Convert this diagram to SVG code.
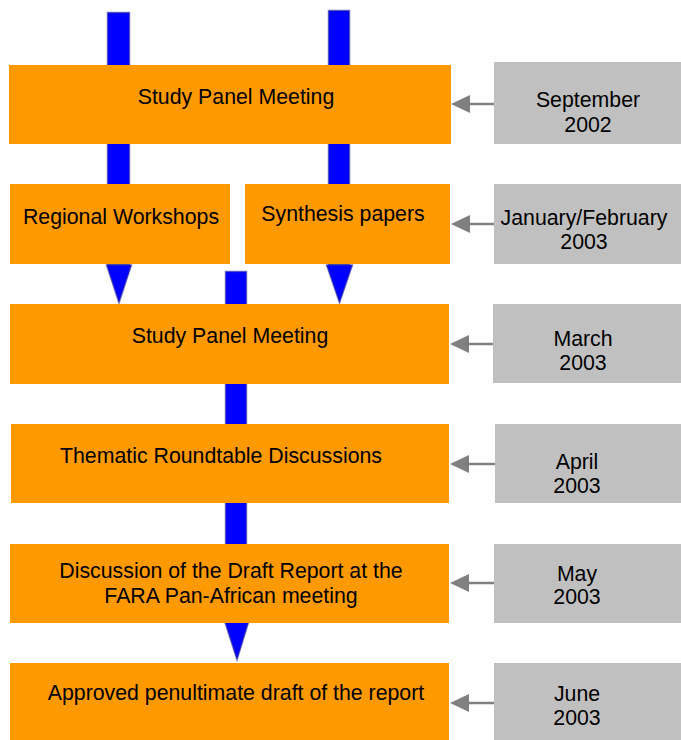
<svg xmlns="http://www.w3.org/2000/svg" width="681" height="740" viewBox="0 0 681 740">
<style>
.box{fill:#FF9900}
.date{fill:#C0C0C0}
.t{font-family:"Liberation Sans",Arial,sans-serif;font-size:21.3px;fill:#000;text-anchor:middle}
.blue{fill:#0000FF;stroke:#333399;stroke-opacity:0.6;stroke-width:1.5}
.ga{stroke:#808080;stroke-width:2.5;fill:none}
.gh{fill:#808080}
</style>
<rect width="681" height="740" fill="#fff"/>
<g id="flow">
<rect class="blue" x="107.5" y="12.5" width="22" height="252"/>
<polygon class="blue" points="106.5,265 131.5,265 119,303"/>
<rect class="blue" x="328.5" y="10.5" width="21" height="254"/>
<polygon class="blue" points="326.5,265 352.5,265 339.5,303"/>
<rect class="blue" x="225.5" y="271.5" width="21" height="350"/>
<polygon class="blue" points="224.5,621 249,621 237,660"/>
</g>
<g id="n1"><rect class="box" x="9" y="65" width="442" height="79"/><text class="t" x="236" y="104">Study Panel Meeting</text></g>
<g id="n2a"><rect class="box" x="10" y="184" width="220" height="80"/><text class="t" x="121" y="224">Regional Workshops</text></g>
<g id="n2b"><rect class="box" x="245" y="184" width="205" height="80"/><text class="t" x="343" y="221">Synthesis papers</text></g>
<g id="n3"><rect class="box" x="10" y="304" width="439" height="80"/><text class="t" x="230" y="343">Study Panel Meeting</text></g>
<g id="n4"><rect class="box" x="11" y="424" width="438" height="79"/><text class="t" x="221" y="463">Thematic Roundtable Discussions</text></g>
<g id="n5"><rect class="box" x="10" y="544" width="439" height="79"/><text class="t" x="231" y="578">Discussion of the Draft Report at the</text><text class="t" x="231" y="603">FARA Pan-African meeting</text></g>
<g id="n6"><rect class="box" x="10" y="663" width="439" height="77"/><text class="t" x="236" y="700">Approved penultimate draft of the report</text></g>
<g id="d1"><rect class="date" x="494" y="62" width="187" height="82"/><text class="t" x="588" y="107">September</text><text class="t" x="588" y="132">2002</text></g>
<g id="d2"><rect class="date" x="494" y="184" width="187" height="80"/><text class="t" x="584" y="225">January/February</text><text class="t" x="584" y="249">2003</text></g>
<g id="d3"><rect class="date" x="493" y="304" width="188" height="79"/><text class="t" x="583" y="346">March</text><text class="t" x="583" y="370">2003</text></g>
<g id="d4"><rect class="date" x="495" y="424" width="186" height="79"/><text class="t" x="577" y="469">April</text><text class="t" x="577" y="493">2003</text></g>
<g id="d5"><rect class="date" x="494" y="544" width="187" height="79"/><text class="t" x="577" y="581">May</text><text class="t" x="577" y="604">2003</text></g>
<g id="d6"><rect class="date" x="494" y="663" width="187" height="77"/><text class="t" x="577" y="701">June</text><text class="t" x="577" y="725">2003</text></g>
<g id="connectors">
<line class="ga" x1="494" y1="104" x2="468" y2="104"/><polygon class="gh" points="451,104 470,95 470,113"/>
<line class="ga" x1="494" y1="224" x2="468" y2="224"/><polygon class="gh" points="451,224 470,215 470,233"/>
<line class="ga" x1="493" y1="344" x2="468" y2="344"/><polygon class="gh" points="450,344 469,335 469,353"/>
<line class="ga" x1="495" y1="464" x2="468" y2="464"/><polygon class="gh" points="450,464 469,455 469,473"/>
<line class="ga" x1="494" y1="583" x2="468" y2="583"/><polygon class="gh" points="450,583 469,574 469,592"/>
<line class="ga" x1="494" y1="703" x2="468" y2="703"/><polygon class="gh" points="450,703 469,694 469,712"/>
</g>
</svg>
